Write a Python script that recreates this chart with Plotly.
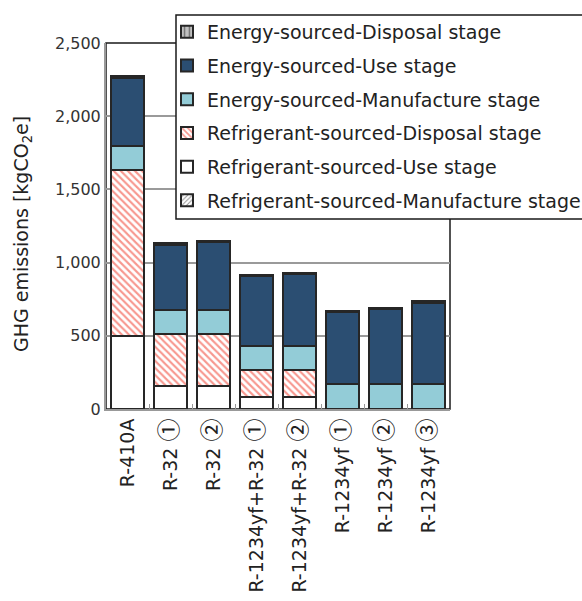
import plotly.graph_objects as go

categories = ["R-410A", "R-32 ①", "R-32 ②", "R-1234yf+R-32 ①", "R-1234yf+R-32 ②",
              "R-1234yf ①", "R-1234yf ②", "R-1234yf ③"]

ref_manufacture = [2, 1, 1, 1, 1, 0, 0, 0]
ref_use = [496, 154, 154, 79, 79, 0, 0, 0]
ref_disposal = [1132, 360, 360, 185, 185, 0, 0, 0]
energy_manufacture = [166, 160, 160, 164, 164, 171, 171, 171]
energy_use = [467, 448, 464, 478, 491, 489, 509, 555]
energy_disposal = [11, 10, 10, 10, 10, 10, 10, 10]

y_ticks = [0, 500, 1000, 1500, 2000, 2500]
y_tick_labels = ["0", "500", "1,000", "1,500", "2,000", "2,500"]

FONT = "DejaVu Sans, Noto Sans CJK JP, sans-serif"
CJK = "Noto Sans CJK JP"
EDGE = "#262626"

def styled_label(c):
    # render circled digits larger, as in the reference
    out = ""
    for ch in c:
        if "\u2460" <= ch <= "\u2473":
            out += f"<span style='font-family:{CJK};font-size:23px'>{ch}</span>"
        else:
            out += ch
    return out

x_tick_text = [styled_label(c) for c in categories]

fig = go.Figure()

series = [
    ("Refrigerant-sourced-Manufacture stage", ref_manufacture,
     dict(color="white", pattern=dict(shape="/", fgcolor="#222222", bgcolor="white", size=4, solidity=0.3))),
    ("Refrigerant-sourced-Use stage", ref_use, dict(color="white")),
    ("Refrigerant-sourced-Disposal stage", ref_disposal,
     dict(color="white", pattern=dict(shape="\\", fgcolor="#f0301f", bgcolor="white", size=5, solidity=0.42))),
    ("Energy-sourced-Manufacture stage", energy_manufacture, dict(color="#93ccd7")),
    ("Energy-sourced-Use stage", energy_use, dict(color="#2b4e72")),
    ("Energy-sourced-Disposal stage", energy_disposal,
     dict(color="#a8a8a8", pattern=dict(shape="|", fgcolor="#222222", bgcolor="#c0c0c0", size=6, solidity=0.3))),
]

n = len(series)
for i, (name, vals, mk) in enumerate(series):
    mk = dict(mk)
    mk["line"] = dict(color=EDGE, width=2)
    fig.add_trace(go.Bar(x=categories, y=vals, name=name, marker=mk,
                         legendgroup=f"g{i}", legendrank=100 + (n - i)))

W, H = 582, 601
ml, mr, mt, mb = 106, 132, 43, 192
pw, ph = W - ml - mr, H - mt - mb

def px_x(p):
    return (p - ml) / pw

def px_y(p):
    return (H - mb - p) / ph

# plot frame (black top/right border)
fig.add_shape(type="rect", xref="paper", yref="paper", x0=0, x1=1, y0=0, y1=1,
              line=dict(color="#1a1a1a", width=1.5), layer="below")
# legend box
fig.add_shape(type="rect", xref="paper", yref="paper",
              x0=px_x(176), x1=px_x(590), y0=px_y(219), y1=px_y(15),
              line=dict(color="#1a1a1a", width=1.5), fillcolor="white", layer="above")

fig.add_annotation(
    text="GHG emissions [kgCO<sub>2</sub>e]", textangle=-90,
    xref="paper", yref="paper", x=px_x(22), y=px_y(234), xanchor="center", yanchor="middle",
    showarrow=False, font=dict(family=FONT, size=19, color="#222222"),
)

fig.update_layout(
    width=W, height=H,
    margin=dict(l=ml, r=mr, t=mt, b=mb, autoexpand=False),
    paper_bgcolor="white", plot_bgcolor="white",
    barmode="stack", bargap=0.21,
    font=dict(family=FONT, size=17, color="#222222"),
    showlegend=True,
    legend=dict(
        xref="container", yref="container",
        x=167 / W, y=1 - 13 / H, xanchor="left", yanchor="top",
        traceorder="grouped", bgcolor="rgba(0,0,0,0)", borderwidth=0,
        font=dict(family=FONT, size=19, color="#222222"),
        tracegroupgap=6,
    ),
    xaxis=dict(
        tickangle=-90, showline=True, linecolor="#999999", linewidth=2,
        ticks="inside", tickson="boundaries", ticklen=5, tickcolor="#999999",
        tickfont=dict(family=FONT, size=19, color="#222222"),
        tickmode="array", tickvals=categories, ticktext=x_tick_text,
        showgrid=False,
    ),
    yaxis=dict(
        range=[0, 2500], tickvals=y_ticks, ticktext=y_tick_labels,
        showline=True, linecolor="#999999", linewidth=2,
        showgrid=True, gridcolor="#9a9a9a", gridwidth=1.5,
        ticks="", tickfont=dict(family=FONT, size=16, color="#333333"),
        zeroline=False,
    ),
)

fig.write_html("out.html", config={"displayModeBar": False},
               post_script="document.body.style.margin='0';document.body.style.overflow='hidden';")
